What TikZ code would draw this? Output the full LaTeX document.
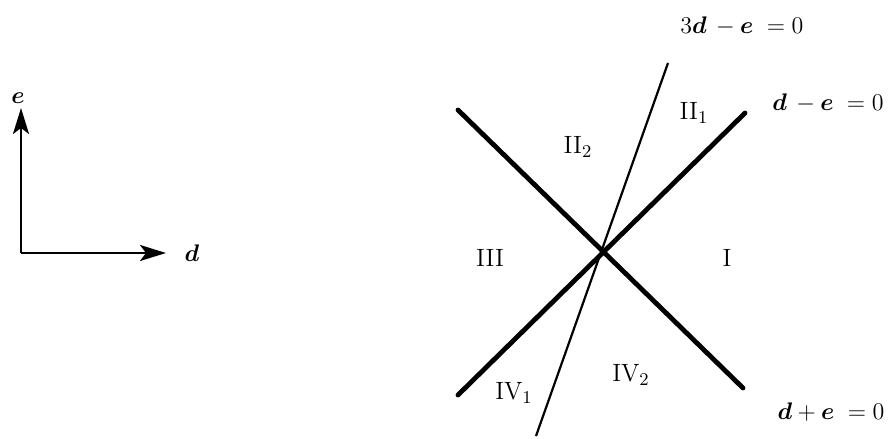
\documentclass[tikz,border=0pt]{standalone}
\usepackage{amsmath,bm}
\usetikzlibrary{arrows.meta}

\begin{document}
\begin{tikzpicture}[x=0.5pt,y=-0.5pt,
  font=\fontsize{12.5pt}{15pt}\selectfont,
  thick line/.style={line width=2.4pt,line cap=round},
  thin line/.style={line width=1.1pt},
  axis/.style={line width=1.1pt,-{Stealth[length=13pt,width=8pt,inset=3pt]}},
  lbl/.style={inner sep=1pt}]
\useasboundingbox (0,0) rectangle (889,439);
% axes
\coordinate (o) at (21,253);
\coordinate (etip) at (21,108);
\coordinate (dtip) at (166,253);
\node[lbl] (e) at (18,98) {$\bm{e}$};
\node[lbl] (d) at (192,253) {$\bm{d}$};
\draw[axis] (o) -- (etip);
\draw[axis] (o) -- (dtip);
% the three lines through the centre
\coordinate (c) at (602,252);
\coordinate (pnw) at (458,110);
\coordinate (pse) at (743,388);
\coordinate (psw) at (458,395);
\coordinate (pne) at (745,113);
\coordinate (ptop) at (668,63);
\coordinate (pbot) at (536,436);
\draw[thick line] (pnw) -- (pse);
\draw[thick line] (psw) -- (pne);
\draw[thin line] (pbot) -- (ptop);
% equations
\node[lbl] (eq3) at (742,26) {$3\bm{d}\,-\bm{e}\;=0$};
\node[lbl] (eqm) at (828,103) {$\bm{d}\,-\bm{e}\;=0$};
\node[lbl] (eqp) at (831,412) {$\bm{d}+\bm{e}\;=0$};
% regions
\node[lbl] (rI) at (727,258) {I};
\node[lbl] (rIIa) at (694,113) {II$_1$};
\node[lbl] (rIIb) at (578,147) {II$_2$};
\node[lbl] (rIII) at (490,258) {III};
\node[lbl] (rIVa) at (514,393) {IV$_1$};
\node[lbl] (rIVb) at (631,375) {IV$_2$};
\end{tikzpicture}
\end{document}
